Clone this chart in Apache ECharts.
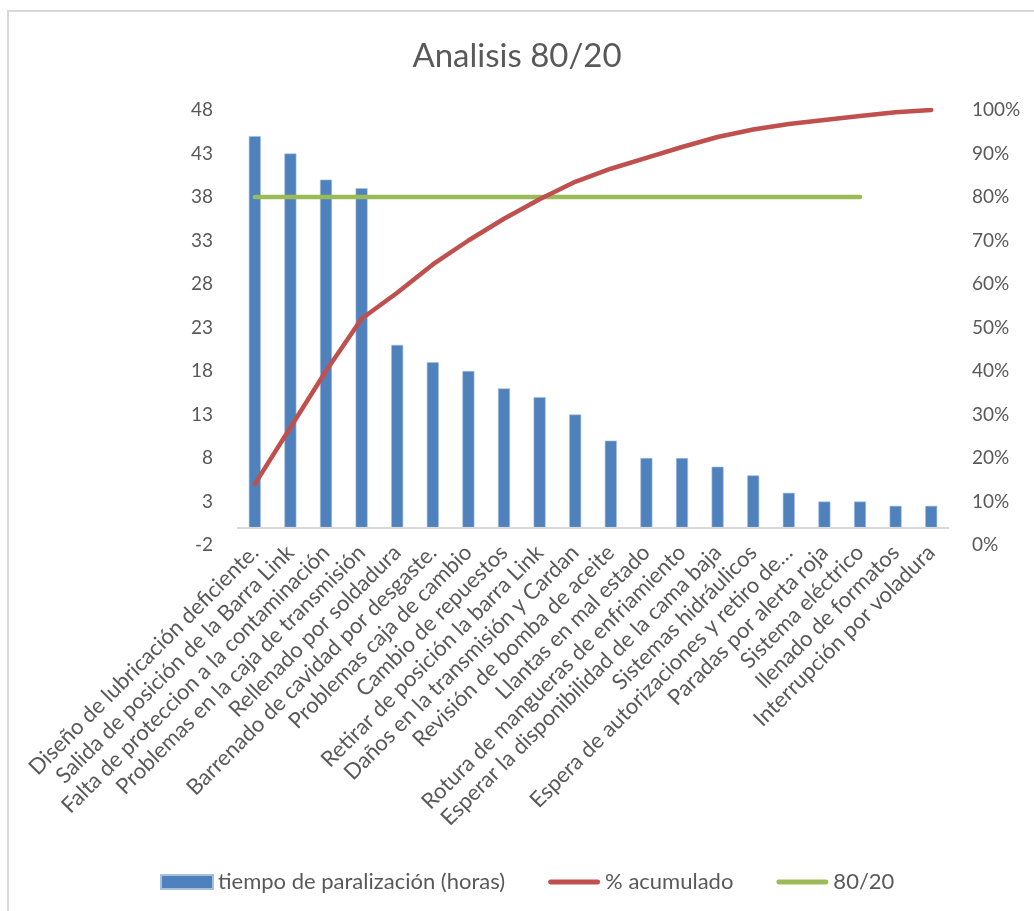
<!DOCTYPE html>
<html>
<head>
<meta charset="utf-8">
<script src="https://cdn.jsdelivr.net/npm/echarts@6/dist/echarts.min.js"></script>
<style>
  html, body { margin: 0; padding: 0; background: #fff; }
  #wrap { position: relative; width: 1034px; height: 911px; }
  #chart { position: absolute; left: 0; top: 0; width: 1034px; height: 911px; }
  #frame { position: absolute; left: 7px; top: 10px; width: 1027px; height: 901px;
           border-left: 2px solid #d9d9d9; border-top: 2px solid #d9d9d9; box-sizing: border-box; pointer-events: none; }
</style>
</head>
<body>
<div id="wrap">
  <div id="chart"></div>
  <div id="frame"></div>
</div>
<script>
// causas de paralizacion
var categorias = [
  'Diseño de lubricación deficiente.',
  'Salida de posición de la Barra Link',
  'Falta de proteccion a la contaminación',
  'Problemas en la caja de transmisión',
  'Rellenado por soldadura',
  'Barrenado de cavidad por desgaste.',
  'Problemas caja de cambio',
  'Cambio de repuestos',
  'Retirar de posición la barra Link',
  'Daños en la transmisión y Cardan',
  'Revisión de bomba de aceite',
  'Llantas en mal estado',
  'Rotura de mangueras de enfriamiento',
  'Esperar la disponibilidad de la cama baja',
  'Sistemas hidráulicos',
  'Espera de autorizaciones y retiro de…',
  'Paradas por alerta roja',
  'Sistema eléctrico',
  'llenado de formatos',
  'Interrupción por voladura'
];
var horas = [45, 43, 40, 39, 21, 19, 18, 16, 15, 13, 10, 8, 8, 7, 6, 4, 3, 3, 2.5, 2.5];
var acumulado = [14, 27, 40, 52, 58, 64.5, 70, 75, 79.5, 83.5, 86.5, 89, 91.5, 93.8, 95.5, 96.8, 97.7, 98.6, 99.5, 100];
var linea8020 = [80, 80, 80, 80, 80, 80, 80, 80, 80, 80, 80, 80, 80, 80, 80, 80, 80, 80, '-', '-'];

var gris = '#595959';
var fuente = 'Lato, "Open Sans", sans-serif';
// icono de linea gruesa con puntas redondas para la leyenda
var iconoLinea = 'path://M2.5,0 L51.5,0 A2.5,2.5 0 0 1 51.5,5 L2.5,5 A2.5,2.5 0 0 1 2.5,0 Z';

var myChart = echarts.init(document.getElementById('chart'));
var option = {
  animation: false,
  textStyle: { fontFamily: fuente },
  title: {
    text: 'Analisis 80/20',
    left: 'center',
    top: 35,
    textStyle: { color: gris, fontSize: 33, fontWeight: 'normal', fontFamily: fuente }
  },
  legend: {
    left: 160,
    top: 871,
    padding: 0,
    itemGap: 43,
    itemWidth: 52,
    itemHeight: 14,
    textStyle: { color: gris, fontSize: 22, fontFamily: fuente },
    data: [
      { name: 'tiempo de paralización (horas)', icon: 'rect' },
      { name: '% acumulado', icon: iconoLinea },
      { name: '80/20', icon: iconoLinea }
    ]
  },
  grid: { left: 237, right: 85, top: 110, bottom: 366 },
  xAxis: {
    type: 'category',
    data: categorias,
    axisLine: { show: false, onZero: false },
    axisTick: { show: false },
    axisLabel: { rotate: 45, interval: 0, color: gris, fontSize: 22, margin: 4, fontFamily: fuente }
  },
  yAxis: [
    {
      type: 'value',
      min: -2, max: 48, interval: 5,
      splitLine: { show: false },
      axisLine: { show: false },
      axisTick: { show: false },
      axisLabel: { color: gris, fontSize: 19, margin: 24, fontFamily: fuente }
    },
    {
      type: 'value',
      min: 0, max: 100, interval: 10,
      splitLine: { show: false },
      axisLine: { show: false },
      axisTick: { show: false },
      axisLabel: { color: gris, fontSize: 19, margin: 23, formatter: '{value}%', fontFamily: fuente }
    }
  ],
  series: [
    {
      name: 'tiempo de paralización (horas)',
      type: 'bar',
      barWidth: 12,
      data: horas,
      itemStyle: { color: '#4f81bd', borderColor: '#a7c0de', borderWidth: 0.6 },
      markLine: {
        silent: true,
        symbol: 'none',
        label: { show: false },
        lineStyle: { color: '#d9d9d9', width: 2, type: 'solid' },
        data: [{ yAxis: 0 }]
      },
      z: 1
    },
    {
      name: '% acumulado',
      type: 'line',
      yAxisIndex: 1,
      data: acumulado,
      symbol: 'none',
      lineStyle: { color: '#c0504d', width: 4.5, cap: 'round', join: 'round' },
      itemStyle: { color: '#c0504d' },
      z: 3
    },
    {
      name: '80/20',
      type: 'line',
      yAxisIndex: 1,
      data: linea8020,
      symbol: 'none',
      lineStyle: { color: '#9bbb59', width: 4.5, cap: 'round' },
      itemStyle: { color: '#9bbb59' },
      z: 2
    }
  ]
};
myChart.setOption(option);
window.addEventListener('resize', function () { myChart.resize(); });
</script>
</body>
</html>
